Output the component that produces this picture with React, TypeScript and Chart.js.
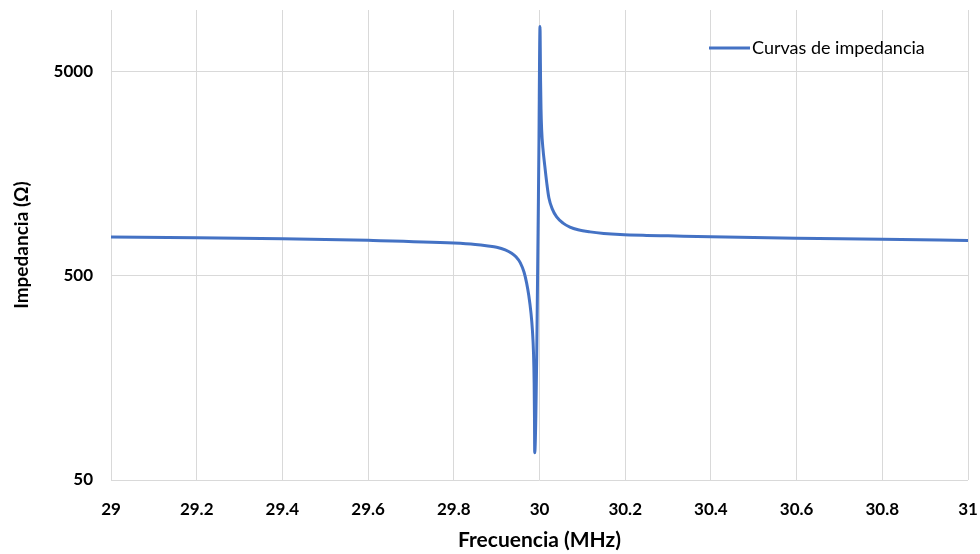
import React, { useEffect, useRef } from "react";
import { Chart, registerables } from "chart.js";

Chart.register(...registerables);

const frequencies = [
  29, 29.2, 29.4, 29.6, 29.8, 29.85, 29.88, 29.9, 29.92, 29.935, 29.945, 29.955,
  29.964, 29.97, 29.975, 29.98, 29.9835, 29.986, 29.9875, 29.9883, 29.9888,
  29.9935, 29.9985, 30.0012, 30.0018, 30.0025, 30.0035, 30.005, 30.008, 30.012,
  30.017, 30.022, 30.03, 30.04, 30.055, 30.071, 30.09, 30.118, 30.15, 30.188,
  30.25, 30.3, 30.4, 30.6, 30.8, 31,
];
const impedances = [
  774, 768, 759, 745, 723, 712, 700, 690, 670, 645, 620, 580,
  520, 460, 400, 330, 270, 210, 150, 100, 68,
  200, 2000, 8300, 6500, 4500, 3300, 2600, 2100, 1750,
  1420, 1200, 1060, 970, 905, 866, 840, 820, 806, 796,
  788, 784, 776, 763, 755, 743,
];
const yTickValues = [50, 500, 5000];
const seriesLabel = "Curvas de impedancia";
const xTitle = "Frecuencia (MHz)";
const yTitle = "Impedancia (Ω)";

const legendPlugin = {
  id: "lineLegend",
  afterDraw(chart: any) {
    const ds = chart.data.datasets[0];
    const ctx = chart.ctx;
    ctx.save();
    ctx.strokeStyle = ds.borderColor;
    ctx.lineWidth = 3;
    ctx.beginPath();
    ctx.moveTo(709, 48);
    ctx.lineTo(750, 48);
    ctx.stroke();
    ctx.font = "18px Lato";
    ctx.fillStyle = "#000";
    ctx.textBaseline = "middle";
    ctx.textAlign = "left";
    ctx.fillText(ds.label, 752, 48);
    ctx.restore();
  },
};

const tickFont = { family: "Lato", size: 17, weight: "bold" as const };

export default function App() {
  const ref = useRef<HTMLCanvasElement | null>(null);
  useEffect(() => {
    if (!ref.current) return;
    const chart = new Chart(ref.current, {
      type: "line",
      data: {
        datasets: [
          {
            label: seriesLabel,
            data: frequencies.map((f, i) => ({ x: f, y: impedances[i] })),
            borderColor: "#4472C4",
            borderWidth: 3,
            pointRadius: 0,
            cubicInterpolationMode: "monotone",
            fill: false,
          },
        ],
      },
      options: {
        animation: false,
        responsive: false,
        devicePixelRatio: 1,
        layout: { padding: { left: 0, right: 12, top: 10, bottom: 0 } },
        plugins: { legend: { display: false }, tooltip: { enabled: false } },
        scales: {
          x: {
            type: "linear",
            min: 29,
            max: 31,
            ticks: {
              stepSize: 0.2,
              padding: 19,
              autoSkip: false,
              maxRotation: 0,
              font: tickFont,
              color: "#000",
              callback: (v: any) => String(Math.round(Number(v) * 10) / 10),
            },
            grid: { color: "#d9d9d9", drawTicks: false },
            border: { display: false },
            title: {
              display: true,
              text: xTitle,
              font: { family: "Lato", size: 21, weight: "bold" },
              color: "#000",
              padding: { top: 0, bottom: 1 },
            },
            afterFit: (s: any) => {
              s.height = 74;
              s.paddingLeft = 0;
              s.paddingRight = 0;
            },
          },
          y: {
            type: "logarithmic",
            min: 50,
            max: 10000,
            afterBuildTicks: (s: any) => {
              s.ticks = yTickValues.map((v) => ({ value: v }));
            },
            ticks: {
              padding: 18,
              font: tickFont,
              color: "#000",
              callback: (v: any) => String(v),
            },
            grid: { color: "#d9d9d9", drawTicks: false },
            border: { display: false },
            title: {
              display: true,
              text: yTitle,
              font: { family: "Lato", size: 19, weight: "bold" },
              color: "#000",
              padding: { top: 10, bottom: 0 },
            },
            afterFit: (s: any) => {
              s.width = 111;
              s.paddingTop = 0;
              s.paddingBottom = 0;
            },
          },
        },
      },
      plugins: [legendPlugin],
    } as any);
    return () => chart.destroy();
  }, []);
  return (
    <div style={{ position: "fixed", left: 0, top: 0, width: 980, height: 554, background: "#fff" }}>
      <canvas ref={ref} width={980} height={554} style={{ display: "block" }} />
    </div>
  );
}
